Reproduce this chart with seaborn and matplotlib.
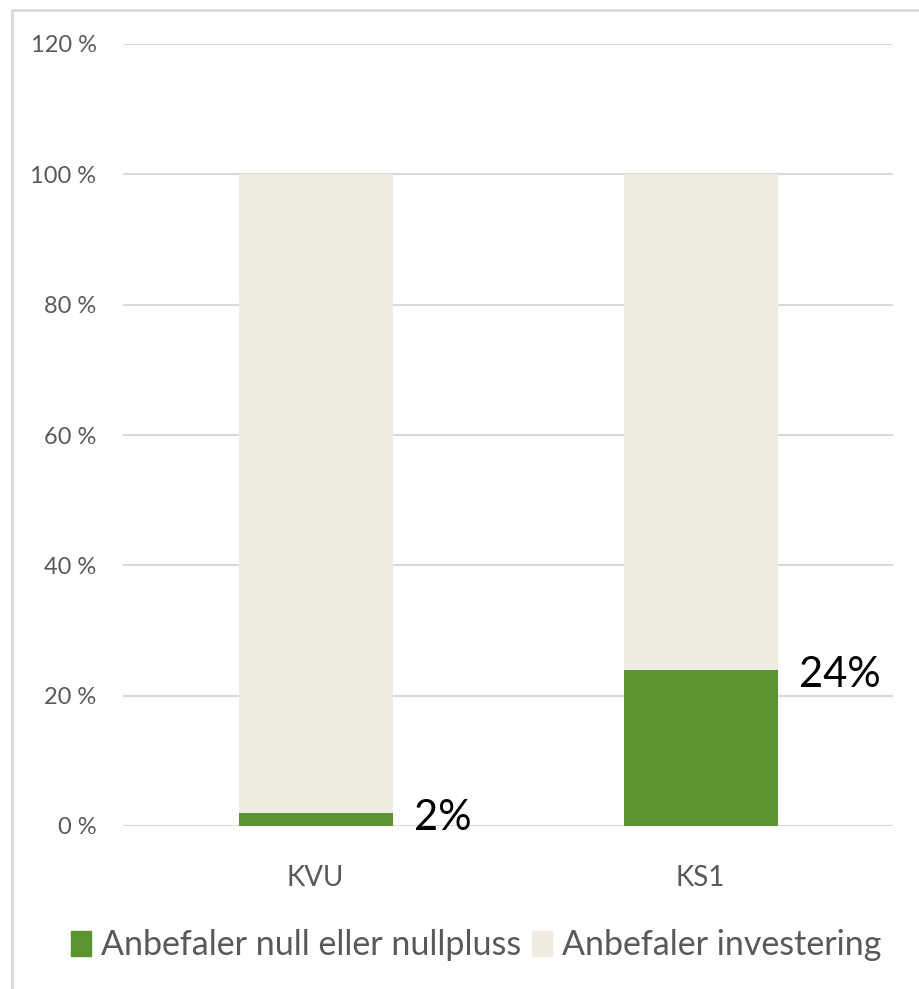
import matplotlib
matplotlib.use("Agg")
import matplotlib.pyplot as plt
import matplotlib.patches as mpatches
import seaborn as sns
import pandas as pd

# Data
categories = ["KVU", "KS1"]
null_share = [0.02, 0.24]
invest_share = [0.98, 0.76]
labels = ["2%", "24%"]
series_names = ["Anbefaler null eller nullpluss", "Anbefaler investering"]
yticks = [0, 0.2, 0.4, 0.6, 0.8, 1.0, 1.2]

green = "#5B9331"
beige = "#EEEBE0"
grey_text = "#595959"

sns.set_theme(style="white")
plt.rcParams["font.family"] = ["Lato", "DejaVu Sans"]

df = pd.DataFrame({"kat": categories, "null": null_share, "invest": invest_share})
df["total"] = df["null"] + df["invest"]

fig = plt.figure(figsize=(9.19, 9.89), dpi=100)
ax = fig.add_axes([123 / 919, 1 - 826 / 989, (893 - 123) / 919, (826 - 44) / 989])

# stacked: draw total first, then bottom segment on top
sns.barplot(data=df, x="kat", y="total", color=beige, width=0.4, saturation=1,
            linewidth=0, ax=ax, zorder=3)
sns.barplot(data=df, x="kat", y="null", color=green, width=0.4, saturation=1,
            linewidth=0, ax=ax, zorder=4)

ax.set_ylim(0, 1.2)
ax.set_yticks(yticks)
ax.set_yticklabels([f"{int(round(t * 100))} %" for t in yticks])
ax.yaxis.grid(True, color="#D9D9D9", linewidth=1.5, zorder=0)
ax.set_axisbelow(True)
for s in ax.spines.values():
    s.set_visible(False)
ax.set_xlabel("")
ax.set_ylabel("")
ax.tick_params(axis="y", labelsize=17, colors=grey_text, length=0, pad=19)
ax.tick_params(axis="x", labelsize=20, colors=grey_text, length=0, pad=28)

# value labels
for i, (v, lab) in enumerate(zip(null_share, labels)):
    ax.text(i + 0.255, v - 0.008, lab, fontsize=30, color="black", ha="left", va="center")

# legend
handles = [mpatches.Patch(color=green, label=series_names[0]),
           mpatches.Patch(color=beige, label=series_names[1])]
leg = fig.legend(handles=handles, loc="center", bbox_to_anchor=(0.518, 1 - 945 / 989),
                 ncol=2, frameon=False, fontsize=24.5, handlelength=0.6, handleheight=0.75,
                 handletextpad=0.3, columnspacing=0.3)
for t in leg.get_texts():
    t.set_color(grey_text)

# outer frame (only top and left visible)
fig.patches.append(mpatches.Rectangle((12 / 919, -0.1), 1.2, 1 - 10 / 989 + 0.1,
                                      transform=fig.transFigure, fill=False,
                                      edgecolor="#D9D9D9", linewidth=2))

fig.savefig("out.png", dpi=100)
